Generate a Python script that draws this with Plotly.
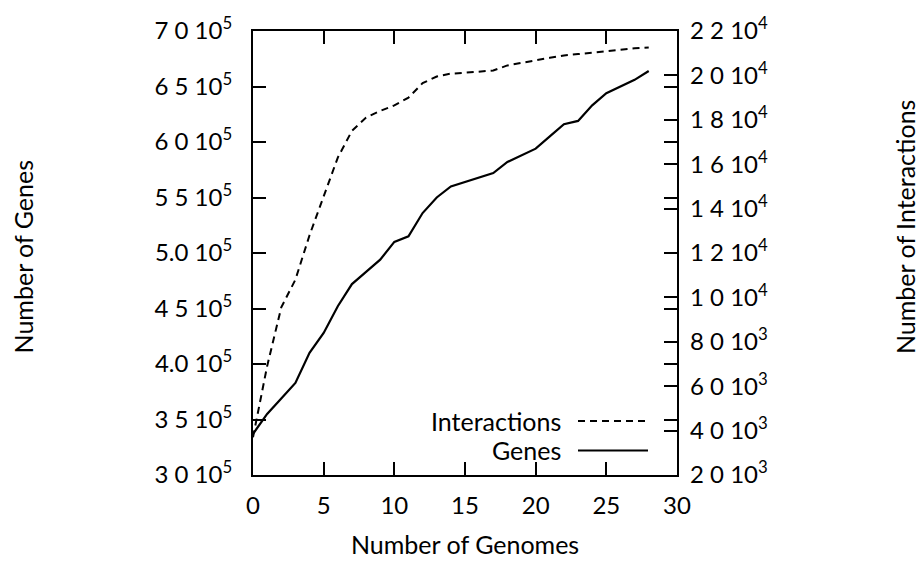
import plotly.graph_objects as go

genomes = list(range(0, 29))
genes = [3.37e5, 3.55e5, 3.69e5, 3.83e5, 4.10e5, 4.28e5, 4.52e5, 4.72e5, 4.83e5, 4.94e5,
         5.10e5, 5.15e5, 5.36e5, 5.50e5, 5.60e5, 5.64e5, 5.68e5, 5.72e5, 5.82e5, 5.88e5,
         5.94e5, 6.05e5, 6.16e5, 6.19e5, 6.33e5, 6.44e5, 6.50e5, 6.56e5, 6.64e5]
interactions = [3700, 6900, 9550, 10800, 12800, 14600, 16300, 17500, 18100, 18400,
                18650, 19000, 19650, 19950, 20080, 20120, 20170, 20220, 20450, 20580,
                20680, 20790, 20900, 20960, 21030, 21110, 21160, 21220, 21260]

x_ticks = [0, 5, 10, 15, 20, 25, 30]
y_tickvals = [3.0e5, 3.5e5, 4.0e5, 4.5e5, 5.0e5, 5.5e5, 6.0e5, 6.5e5, 7.0e5]
y_ticktext = ["3 0 10<sup>5</sup>", "3 5 10<sup>5</sup>", "4.0 10<sup>5</sup>", "4 5 10<sup>5</sup>",
              "5.0 10<sup>5</sup>", "5 5 10<sup>5</sup>", "6 0 10<sup>5</sup>", "6 5 10<sup>5</sup>",
              "7 0 10<sup>5</sup>"]
y2_tickvals = [2000, 4000, 6000, 8000, 10000, 12000, 14000, 16000, 18000, 20000, 22000]
y2_ticktext = ["2 0 10<sup>3</sup>", "4 0 10<sup>3</sup>", "6 0 10<sup>3</sup>", "8 0 10<sup>3</sup>",
               "1 0 10<sup>4</sup>", "1 2 10<sup>4</sup>", "1 4 10<sup>4</sup>", "1 6 10<sup>4</sup>",
               "1 8 10<sup>4</sup>", "2 0 10<sup>4</sup>", "2 2 10<sup>4</sup>"]

FONT = "Lato"
TFS = 24   # tick labels
LFS = 25   # titles / legend

# plot area in pixels: x 253..677, y 22..475
L, R, T, B = 253, 677, 22, 475
W, H = R - L, B - T


def px(xp):
    return (xp - L) / W


def py(yp):
    return (B - yp) / H


fig = go.Figure()
fig.add_trace(go.Scatter(x=genomes, y=interactions, yaxis="y2", mode="lines",
                         line=dict(color="black", width=2, dash="7px,5px"),
                         name="Interactions", showlegend=False))
fig.add_trace(go.Scatter(x=genomes, y=genes, mode="lines",
                         line=dict(color="black", width=2.2),
                         name="Genes", showlegend=False))

axis_common = dict(showgrid=False, zeroline=False, ticks="inside", ticklen=13,
                   tickwidth=2, tickcolor="black",
                   tickfont=dict(family=FONT, size=TFS, color="black"))

fig.update_layout(
    width=920, height=562,
    margin=dict(l=L, r=920 - R, t=T, b=562 - B),
    paper_bgcolor="white", plot_bgcolor="white",
    xaxis=dict(range=[0, 30], tickvals=x_ticks, showline=True, linewidth=2,
               linecolor="black", mirror="ticks", ticklabelstandoff=8, **axis_common),
    yaxis=dict(range=[3.0e5, 7.0e5], tickvals=y_tickvals, ticktext=y_ticktext,
               showline=True, linewidth=2, linecolor="black", mirror="ticks",
               ticklabelstandoff=14, **axis_common),
    yaxis2=dict(range=[2000, 22000], tickvals=y2_tickvals, ticktext=y2_ticktext,
                overlaying="y", side="right", showline=False,
                ticklabelstandoff=12, **axis_common),
    annotations=[
        dict(text="Number of Genomes", xref="paper", yref="paper", x=0.5, y=py(545),
             xanchor="center", yanchor="middle", showarrow=False,
             font=dict(family=FONT, size=LFS, color="black")),
        dict(text="Number of Genes", xref="paper", yref="paper", x=px(23), y=py(252),
             xanchor="center", yanchor="middle", textangle=-90, showarrow=False,
             font=dict(family=FONT, size=LFS, color="black")),
        dict(text="Number of Interactions", xref="paper", yref="paper", x=px(905), y=py(222),
             xanchor="center", yanchor="middle", textangle=-90, showarrow=False,
             font=dict(family=FONT, size=LFS, color="black")),
        dict(text="Interactions", xref="paper", yref="paper", x=px(563),
             y=py(420), xanchor="right", yanchor="middle", showarrow=False,
             font=dict(family=FONT, size=LFS, color="black")),
        dict(text="Genes", xref="paper", yref="paper", x=px(563),
             y=py(450), xanchor="right", yanchor="middle", showarrow=False,
             font=dict(family=FONT, size=LFS, color="black")),
    ],
    shapes=[
        dict(type="line", xref="paper", yref="paper", x0=px(578), x1=px(648),
             y0=py(420), y1=py(420),
             line=dict(color="black", width=2, dash="7px,5px")),
        dict(type="line", xref="paper", yref="paper", x0=px(578), x1=px(648),
             y0=py(450), y1=py(450),
             line=dict(color="black", width=2.2)),
    ],
)

fig.write_html("out.html")
